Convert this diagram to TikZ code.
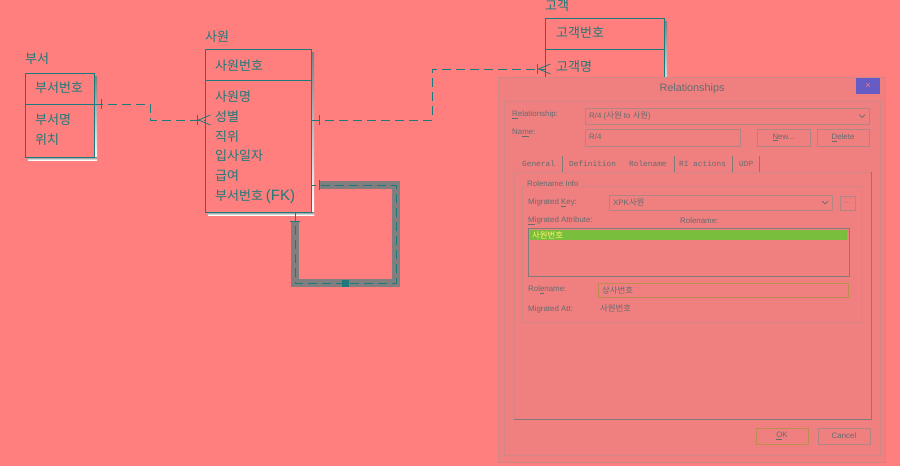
\documentclass[tikz,border=0pt]{standalone}
\usepackage{fontspec}
\setmainfont{Liberation Sans}
\newfontfamily\krfont{Noto Sans CJK KR}
\newfontfamily\tabfont{Liberation Mono}
\usepackage{xcolor}
\usetikzlibrary{positioning, calc}

\definecolor{bgpink}{RGB}{255,127,127}
\definecolor{dlgfill}{RGB}{240,128,128}
\definecolor{dlgedge}{RGB}{212,134,134}
\definecolor{fieldedge}{RGB}{178,132,132}
\definecolor{dlgdark}{RGB}{128,124,124}
\definecolor{dlgtxt}{RGB}{100,108,110}
\definecolor{erline}{RGB}{28,122,122}
\definecolor{shade}{RGB}{70,105,105}
\definecolor{loopgray}{RGB}{128,126,126}
\definecolor{rowgreen}{RGB}{122,190,62}
\definecolor{closebtn}{RGB}{102,92,198}
\definecolor{focusedge}{RGB}{190,140,80}

\begin{document}
\begin{tikzpicture}[
    x=1pt, y=-1pt,
    node distance=19.8pt,
    entity/.style={rectangle, draw=erline, line width=0.9pt, inner sep=0pt},
    ertext/.style={font=\krfont\fontsize{13}{14}\selectfont, text=erline, inner sep=0pt, text height=10pt, text depth=3pt},
    relline/.style={draw=erline, line width=0.8pt, dash pattern=on 9pt off 5pt},
    ermark/.style={draw=erline, line width=0.8pt},
    loopline/.style={draw=loopgray, line width=8pt},
    dlgtext/.style={font=\fontsize{7.9}{9}\selectfont, text=dlgtxt, inner sep=0pt, anchor=west},
    krsmall/.style={font=\krfont\fontsize{8.4}{9}\selectfont},
    tabtext/.style={font=\tabfont\fontsize{7.8}{9}\selectfont, text=dlgtxt, inner sep=0pt, anchor=west},
    field/.style={draw=fieldedge, line width=0.8pt},
    btn/.style={draw=fieldedge, line width=0.9pt, fill=dlgfill, inner sep=0pt, font=\fontsize{7.9}{9}\selectfont, text=dlgtxt}
]

% Background
\fill[bgpink] (0,0) rectangle (900,466);
\useasboundingbox (0,0) rectangle (900,466);

% Entity: 부서
\fill[shade] (94,76) rectangle (97,160);
\fill[shade] (28,157) rectangle (97,160);
\node[entity, minimum width=69pt, minimum height=84pt] (bsbox) at (59.5,115) {};
\draw[erline, line width=0.9pt] ([yshift=-32pt]bsbox.north west) -- ([yshift=-32pt]bsbox.north east);
\node[ertext, anchor=south west] (bstitle) at (25,67) {부서};
\node[ertext, anchor=west] (bs1) at (35,89) {부서번호};
\node[ertext, anchor=west] (bs2) at (35,121) {부서명};
\node[ertext, below=of bs2.west, anchor=west] (bs3) {위치};

% Entity: 사원
\fill[shade] (311,52) rectangle (314,215);
\fill[shade] (208,212) rectangle (314,215);
\node[entity, minimum width=106pt, minimum height=163pt] (swbox) at (258,130.5) {};
\draw[erline, line width=0.9pt] ([yshift=-32pt]swbox.north west) -- ([yshift=-32pt]swbox.north east);
\node[ertext, anchor=south west] (swtitle) at (205,45) {사원};
\node[ertext, anchor=west] (sw0) at (215,67) {사원번호};
\node[ertext, anchor=west] (sw1) at (215,98) {사원명};
\node[ertext, below=of sw1.west, anchor=west] (sw2) {성별};
\node[ertext, below=of sw2.west, anchor=west] (sw3) {직위};
\node[ertext, below=of sw3.west, anchor=west] (sw4) {입사일자};
\node[ertext, below=of sw4.west, anchor=west] (sw5) {급여};
\node[ertext, below=of sw5.west, anchor=west] (sw6) {부서번호 {\rmfamily\fontsize{15}{16}\selectfont(FK)}};

% Entity: 고객
\fill[shade] (664,21) rectangle (667,101);
\node[entity, minimum width=119pt, minimum height=80pt] (gkbox) at (604.5,58) {};
\draw[erline, line width=0.9pt] ([yshift=-32pt]gkbox.north west) -- ([yshift=-32pt]gkbox.north east);
\node[ertext, anchor=south west] (gktitle) at (545,14) {고객};
\node[ertext, anchor=west] (gk1) at (556,34) {고객번호};
\node[ertext, anchor=west] (gk2) at (556,68) {고객명};

% Relationship 부서 - 사원
\path[relline] ([yshift=11pt]bsbox.east) -- ++(56,0) |- ([yshift=10.5pt]swbox.west);
\draw[ermark] ([xshift=7pt,yshift=16pt]bsbox.east) -- ++(0,10);
\draw[ermark] ([xshift=-7pt,yshift=15.5pt]swbox.west) -- ++(0,10);
\draw[ermark] ([xshift=6pt,yshift=5.5pt]swbox.west) -- ([xshift=-6pt,yshift=10.5pt]swbox.west) -- ([xshift=6pt,yshift=15.5pt]swbox.west);

% Relationship 사원 - 고객
\path[relline] ([yshift=10.5pt]swbox.east) -- ++(121,0) |- ([yshift=-11pt]gkbox.west);
\draw[ermark] ([xshift=8pt,yshift=15.5pt]swbox.east) -- ++(0,10);
\draw[ermark] ([xshift=-7pt,yshift=-6pt]gkbox.west) -- ++(0,10);
\draw[ermark] ([xshift=6pt,yshift=-16pt]gkbox.west) -- ([xshift=-6pt,yshift=-11pt]gkbox.west) -- ([xshift=6pt,yshift=-6pt]gkbox.west);

% Recursive relationship 사원 - 사원
\path[loopline] ([xshift=37pt,yshift=-9pt]swbox.south) -- ++(0,62) -- ++(101,0) |- ([xshift=8pt,yshift=-54.5pt]swbox.east);
\path[relline] ([xshift=37pt]swbox.south) -- ++(0,71) -- ++(101,0) |- ([yshift=-54.5pt]swbox.east);
\draw[ermark] ([xshift=32pt,yshift=-9pt]swbox.south) -- ++(10,0);
\draw[ermark] ([xshift=8pt,yshift=-49.5pt]swbox.east) -- ++(0,10);
\node[fill=erline, minimum size=7pt, inner sep=0pt] (relsq) at (345,283) {};

% Dialog frame
\draw[dlgedge, fill=dlgfill, line width=0.9pt] (498,77) rectangle (885,462);
\draw[dlgedge, line width=0.7pt] (504,101) rectangle (880,455);
\node[font=\fontsize{10.8}{12}\selectfont, text=dlgtxt, inner sep=0pt] (dlgtitle) at (692,89) {Relationships};
\node[fill=closebtn, minimum width=24pt, minimum height=16pt, inner sep=0pt, text=bgpink, font=\fontsize{9}{9}\selectfont] (closex) at (868,86) {×};

% Relationship / Name rows
\node[dlgtext] (lblrel) at (512,115) {\underline{R}elationship:};
\draw[field] (585,108) rectangle (869,124);
\node[dlgtext] (relval) at (589,116) {R/4 ({\krfont\fontsize{8.4}{9}\selectfont 사원} to {\krfont\fontsize{8.4}{9}\selectfont 사원})};
\draw[dlgtxt, line width=0.7pt] (859,114.5) -- (862,117.5) -- (865,114.5);
\node[dlgtext] (lblname) at (512,133) {Na\underline{m}e:};
\draw[field] (585,129) rectangle (740,146);
\node[dlgtext] (nameval) at (589,137) {R/4};
\node[btn, minimum width=53pt, minimum height=17pt] (btnnew) at (783.5,137.5) {\underline{N}ew...};
\node[btn, minimum width=52pt, minimum height=17pt] (btndel) at (843,137.5) {\underline{D}elete};

% Tabs
\node[tabtext] (tabgen) at (522,164) {General};
\node[tabtext] (tabdef) at (569,164) {Definition};
\node[tabtext] (tabrole) at (629,164) {Rolename};
\node[tabtext] (tabri) at (679,164) {RI actions};
\node[tabtext] (tabudp) at (739,164) {UDP};
\foreach \sx in {562,674,732,759}
  \draw[dlgdark, line width=0.7pt] (\sx,156) -- (\sx,172);
\draw[dlgedge, line width=0.7pt] (514,419) -- (514,172) -- (871,172);
\draw[dlgdark, line width=0.9pt] (514,419) -- (871,419) -- (871,172);

% Rolename Info group
\draw[dlgedge, line width=0.7pt] (522,186) rectangle (861,322);
\node[dlgtext, fill=dlgfill, inner xsep=1pt] (grplbl) at (526,184) {Rolename Info};
\node[dlgtext] (lblkey) at (528,203) {Migrated \underline{K}ey:};
\draw[field] (609,195) rectangle (832,210);
\node[dlgtext] (keyval) at (613,202.5) {XPK{\krfont\fontsize{8.4}{9}\selectfont 사원}};
\draw[dlgtxt, line width=0.7pt] (822,201) -- (825,204) -- (828,201);
\node[btn, minimum width=15pt, minimum height=14pt, font=\fontsize{6}{6}\selectfont] (btndots) at (847.5,203) {...};
\node[dlgtext] (lblattr) at (528,221) {\underline{M}igrated Attribute:};
\node[dlgtext] (lblrn) at (680,221) {Rolename:};
\draw[dlgdark, line width=0.8pt] (528,228) rectangle (849,276);
\fill[rowgreen] (530,230) rectangle (847,240);
\node[dlgtext, krsmall, text=yellow!60!white] (rowval) at (532,235) {사원번호};
\node[dlgtext] (lblrole) at (528,290) {Rol\underline{e}name:};
\draw[focusedge, line width=0.9pt] (598,283) rectangle (848,297);
\node[dlgtext, krsmall] (roleval) at (602,290) {상사번호};
\node[dlgtext] (lblmig) at (528,309) {Migrated Att:};
\node[dlgtext, krsmall] (migval) at (600,308) {사원번호};

% Buttons
\node[btn, draw=focusedge, minimum width=52pt, minimum height=16pt] (btnok) at (782,436) {\underline{O}K};
\node[btn, minimum width=52pt, minimum height=16pt] (btncancel) at (844,436) {Cancel};

\end{tikzpicture}
\end{document}
